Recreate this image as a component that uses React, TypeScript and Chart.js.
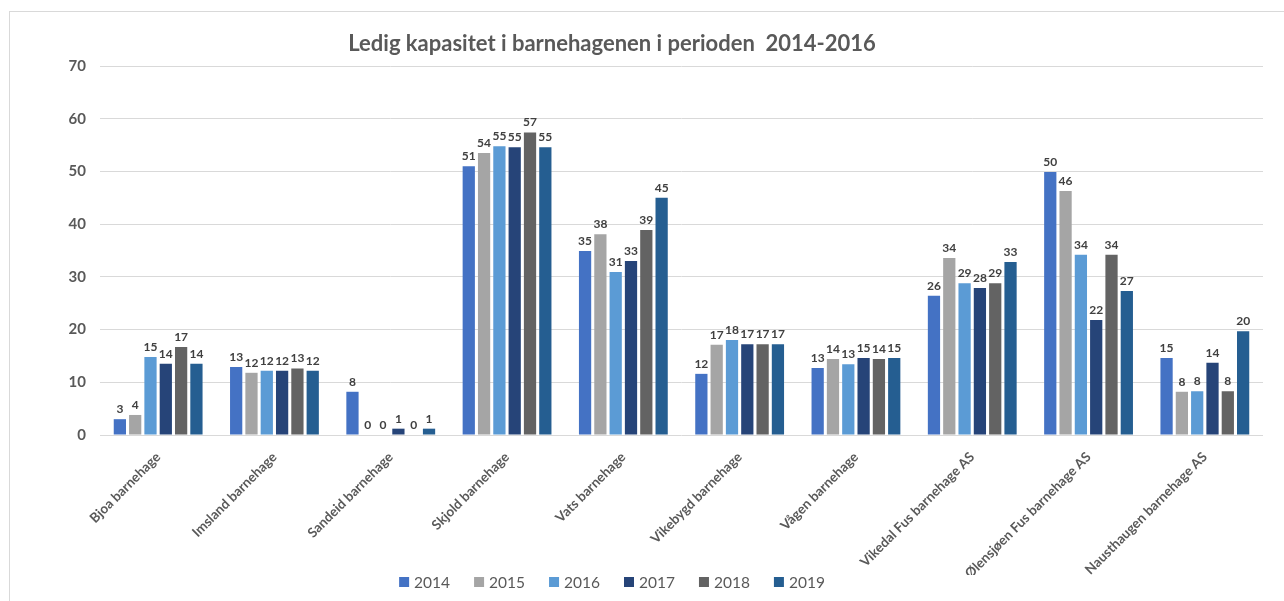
import React, { useEffect, useRef } from "react";
import { Chart, registerables } from "chart.js";

Chart.register(...registerables);

const categories = [
  "Bjoa barnehage",
  "Imsland barnehage",
  "Sandeid barnehage",
  "Skjold barnehage",
  "Vats barnehage",
  "Vikebygd barnehage",
  "Vågen barnehage",
  "Vikedal Fus barnehage AS",
  "Ølensjøen Fus barnehage AS",
  "Nausthaugen barnehage AS",
];

const seriesNames = ["2014", "2015", "2016", "2017", "2018", "2019"];
const seriesColors = ["#4472C4", "#A5A5A5", "#5B9BD5", "#264478", "#636363", "#255E91"];

const values2014 = [3.0, 12.9, 8.2, 51.0, 34.9, 11.6, 12.7, 26.4, 49.9, 14.6];
const values2015 = [3.8, 11.8, 0, 53.5, 38.1, 17.1, 14.4, 33.6, 46.3, 8.2];
const values2016 = [14.8, 12.2, 0, 54.8, 30.9, 18.0, 13.4, 28.8, 34.2, 8.3];
const values2017 = [13.5, 12.2, 1.2, 54.6, 33.0, 17.2, 14.6, 27.9, 21.8, 13.7];
const values2018 = [16.7, 12.6, 0, 57.4, 38.9, 17.2, 14.4, 28.8, 34.2, 8.3];
const values2019 = [13.5, 12.2, 1.2, 54.6, 45.0, 17.2, 14.6, 32.8, 27.3, 19.7];

const allValues = [values2014, values2015, values2016, values2017, values2018, values2019];

const titleText = "Ledig kapasitet i barnehagenen i perioden  2014-2016";
const FONT = "Lato, 'Open Sans', sans-serif";
const TEXT_COLOR = "#595959";

const labelPlugin = {
  id: "barLabels",
  afterDatasetsDraw(chart: any) {
    const ctx = chart.ctx;
    ctx.save();
    ctx.font = `bold 12px ${FONT}`;
    ctx.fillStyle = "#404040";
    ctx.textAlign = "center";
    ctx.textBaseline = "bottom";
    chart.data.datasets.forEach((ds: any, i: number) => {
      const meta = chart.getDatasetMeta(i);
      meta.data.forEach((bar: any, j: number) => {
        const v = ds.data[j];
        ctx.fillText(String(Math.round(v)), bar.x, bar.y - 4);
      });
    });
    ctx.restore();
  },
};

const titleLegendPlugin = {
  id: "titleLegend",
  afterDraw(chart: any) {
    const ctx = chart.ctx;
    const cx = 612;
    ctx.save();
    // title
    ctx.font = `bold 22px ${FONT}`;
    ctx.fillStyle = TEXT_COLOR;
    ctx.textAlign = "center";
    ctx.textBaseline = "middle";
    ctx.fillText(titleText, cx, 44);
    // legend
    ctx.font = `15.5px ${FONT}`;
    const box = 10;
    const gapBoxText = 5;
    const gapItems = 24;
    const widths = seriesNames.map((n) => box + gapBoxText + ctx.measureText(n).width);
    const total = widths.reduce((a, b) => a + b, 0) + gapItems * (seriesNames.length - 1);
    let x = cx - total / 2;
    const y = 582;
    ctx.textAlign = "left";
    seriesNames.forEach((n, i) => {
      ctx.fillStyle = seriesColors[i];
      ctx.fillRect(x, y - box / 2, box, box);
      ctx.fillStyle = TEXT_COLOR;
      ctx.fillText(n, x + box + gapBoxText, y + 1);
      x += widths[i] + gapItems;
    });
    ctx.restore();
  },
};

export default function App() {
  const ref = useRef<HTMLCanvasElement | null>(null);
  useEffect(() => {
    if (!ref.current) return;
    const chart = new Chart(ref.current, {
      type: "bar",
      data: {
        labels: categories,
        datasets: seriesNames.map((name, i) => ({
          label: name,
          data: allValues[i],
          backgroundColor: seriesColors[i],
          borderWidth: 0,
          categoryPercentage: 0.79,
          barPercentage: 0.8,
        })),
      },
      options: {
        animation: false,
        responsive: false,
        maintainAspectRatio: false,
        layout: { padding: { left: 20, right: 21, top: 66, bottom: 26 } },
        plugins: {
          title: { display: false },
          legend: { display: false },
          tooltip: { enabled: false },
        },
        scales: {
          x: {
            grid: { display: false },
            border: { display: false },
            ticks: {
              color: TEXT_COLOR,
              font: { family: FONT, size: 13.5, weight: "bold" },
              maxRotation: 45,
              minRotation: 45,
              autoSkip: false,
              padding: 6,
            },
            afterFit(scale: any) {
              scale.height = 140;
            },
          },
          y: {
            min: 0,
            max: 70,
            ticks: {
              stepSize: 10,
              color: TEXT_COLOR,
              font: { family: FONT, size: 15, weight: "bold" },
              padding: 14,
            },
            grid: { color: "#D9D9D9", drawTicks: false },
            border: { display: false },
            afterFit(scale: any) {
              scale.width = 80;
            },
          },
        },
      },
      plugins: [labelPlugin, titleLegendPlugin],
    });
    return () => chart.destroy();
  }, []);

  return (
    <div style={{ position: "absolute", left: 0, top: 0, width: 1284, height: 601, overflow: "hidden", background: "#fff" }}>
      <div style={{ position: "absolute", left: 9, top: 11, width: 1300, height: 620, border: "1px solid #D9D9D9" }} />
      <canvas ref={ref} width={1284} height={601} style={{ position: "absolute", left: 0, top: 0 }} />
    </div>
  );
}
